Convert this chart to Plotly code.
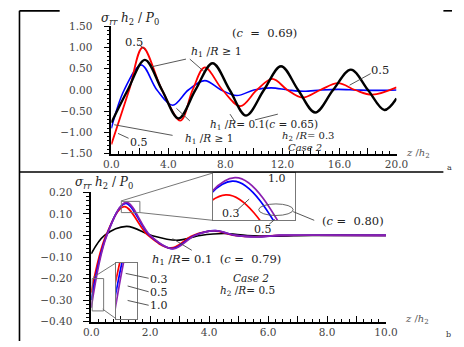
import plotly.graph_objects as go

# ---------------- data ----------------
# Panel (a): h2/R = 0.3, Case 2
z_a_black = [0, 1.15, 2.35, 3.55, 4.72, 5.9, 7.1, 8.3, 9.45, 10.7, 11.9, 13.1, 14.3, 15.55, 16.8, 18.0, 19.15, 20.0]
s_a_black = [-0.77, 0.0, 0.71, 0.0, -0.67, 0.0, 0.63, 0.0, -0.60, 0.0, 0.56, 0.0, -0.53, 0.0, 0.48, 0.0, -0.47, -0.20]

z_a_red = [0, 1.25, 2.2, 3.55, 4.85, 5.7, 6.55, 7.8, 9.05, 10.2, 11.3, 12.35, 13.4, 14.65, 15.9, 17.1, 18.3, 20.0]
s_a_red = [-1.28, 0.0, 1.0, 0.0, -0.72, 0.0, 0.53, 0.0, -0.38, 0.0, 0.26, 0.0, -0.18, 0.0, 0.16, 0.0, -0.11, 0.06]

z_a_blue = [0, 0.9, 2.1, 3.2, 4.3, 5.4, 6.55, 7.7, 8.8, 10.0, 11.2, 12.4, 13.5, 14.7, 15.9, 17.2, 18.4, 20.0]
s_a_blue = [-0.9, 0.0, 0.59, 0.0, -0.36, 0.0, 0.22, 0.0, -0.13, 0.0, 0.05, 0.0, -0.03, 0.0, 0.015, 0.0, -0.01, 0.0]

# Panel (b): h2/R = 0.5, Case 2
z_b_red = [0, 0.5, 1.12, 1.93, 2.7, 3.45, 4.15, 4.85, 5.55, 6.35, 7.5, 10.0]
s_b_red = [-0.265, 0.0, 0.134, 0.0, -0.058, 0.0, 0.021, 0.0, -0.006, 0.0, 0.001, 0.0]

z_b_blue = [0, 0.52, 1.17, 1.98, 2.75, 3.5, 4.2, 4.9, 5.6, 6.4, 7.5, 10.0]
s_b_blue = [-0.30, 0.0, 0.149, 0.0, -0.061, 0.0, 0.022, 0.0, -0.006, 0.0, 0.001, 0.0]

z_b_purple = [0, 0.53, 1.19, 2.0, 2.77, 3.52, 4.22, 4.92, 5.62, 6.42, 7.5, 10.0]
s_b_purple = [-0.335, 0.0, 0.153, 0.0, -0.062, 0.0, 0.022, 0.0, -0.006, 0.0, 0.001, 0.0]

z_b_black = [0, 0.45, 1.2, 2.05, 2.9, 3.7, 4.5, 5.3, 6.2, 7.5, 10.0]
s_b_black = [-0.085, 0.0, 0.042, 0.0, -0.022, 0.0, 0.009, 0.0, -0.003, 0.0, 0.0]

# tick labels
xa_vals = [0, 2, 4, 6, 8, 10, 12, 14, 16, 18, 20]
xa_text = ["0.0", "", "4.0", "", "8.0", "", "12.0", "", "16.0", "", "20.0"]
ya_vals = [-1.5, -1.0, -0.5, 0.0, 0.5, 1.0, 1.5]
ya_text = ["\u22121.50", "\u22121.00", "\u22120.50", "0.00", "0.50", "1.00", "1.50"]
xb_vals = [0, 1, 2, 3, 4, 5, 6, 7, 8, 9, 10]
xb_text = ["0.0", "", "2.0", "", "4.0", "", "6.0", "", "8.0", "", "10.0"]
yb_vals = [-0.4, -0.3, -0.2, -0.1, 0.0, 0.1, 0.2]
yb_text = ["\u22120.40", "\u22120.30", "\u22120.20", "\u22120.10", "0.00", "0.10", "0.20"]

# inset zoom windows
ins1_x = [1.02, 1.65]
ins1_y = [0.106, 0.158]
ins2_x = [0.03, 0.42]
ins2_y = [-0.35, -0.20]

# ---------------- styling ----------------
W, H = 464, 347
FONT = "DejaVu Serif"
RED, BLUE, PURPLE, BLACK = "#ff0000", "#0000ff", "#8a1fb0", "#000000"
NB = "&nbsp;"


def X(p):
    return p / W


def Y(p):
    return 1 - p / H


fig = go.Figure()
spl = dict(shape="spline", smoothing=1.0)

# panel a
fig.add_trace(go.Scatter(x=z_a_blue, y=s_a_blue, mode="lines", line=dict(color=BLUE, width=1.6, **spl), xaxis="x", yaxis="y"))
fig.add_trace(go.Scatter(x=z_a_red, y=s_a_red, mode="lines", line=dict(color=RED, width=1.8, **spl), xaxis="x", yaxis="y"))
fig.add_trace(go.Scatter(x=z_a_black, y=s_a_black, mode="lines", line=dict(color=BLACK, width=2.4, **spl), xaxis="x", yaxis="y"))

# panel b (main + two insets)
for ax, ay in (("x2", "y2"), ("x3", "y3"), ("x4", "y4")):
    if ax == "x2":
        fig.add_trace(go.Scatter(x=z_b_black, y=s_b_black, mode="lines", line=dict(color=BLACK, width=1.6, **spl), xaxis=ax, yaxis=ay))
    fig.add_trace(go.Scatter(x=z_b_red, y=s_b_red, mode="lines", line=dict(color=RED, width=1.7, **spl), xaxis=ax, yaxis=ay))
    fig.add_trace(go.Scatter(x=z_b_blue, y=s_b_blue, mode="lines", line=dict(color=BLUE, width=1.7, **spl), xaxis=ax, yaxis=ay))
    fig.add_trace(go.Scatter(x=z_b_purple, y=s_b_purple, mode="lines", line=dict(color=PURPLE, width=1.7, **spl), xaxis=ax, yaxis=ay))

tickfont = dict(family=FONT, size=10.5, color="#444")
common_x = dict(showline=True, linecolor="black", linewidth=1.6, ticks="inside", ticklen=6, tickwidth=1.3,
                tickcolor="black", showgrid=False, zeroline=False, tickfont=tickfont)
common_y = dict(showline=True, linecolor="black", linewidth=1.6, ticks="outside", ticklen=6, tickwidth=1.3,
                tickcolor="black", showgrid=False, zeroline=False, tickfont=tickfont, ticklabelstandoff=9)
inset_ax = dict(showline=True, mirror=True, linecolor="#777", linewidth=1, showticklabels=False, ticks="",
                showgrid=False, zeroline=False)

fig.update_layout(
    width=W, height=H, margin=dict(l=0, r=0, t=0, b=0),
    paper_bgcolor="white", plot_bgcolor="rgba(0,0,0,0)", showlegend=False,
    xaxis=dict(domain=[X(108), X(406)], range=[0, 20], anchor="y", tickvals=xa_vals, ticktext=xa_text,
               minor=dict(dtick=0.5, ticklen=3, tickcolor="black", ticks="inside"), **common_x),
    yaxis=dict(domain=[Y(153), Y(21)], range=[-1.5, 1.5], anchor="x", tickvals=ya_vals, ticktext=ya_text,
               minor=dict(dtick=0.1, ticklen=3, tickcolor="black", ticks="outside"), **common_y),
    xaxis2=dict(domain=[X(87), X(395)], range=[0, 10], anchor="y2", tickvals=xb_vals, ticktext=xb_text,
                minor=dict(dtick=0.25, ticklen=3, tickcolor="black", ticks="inside"), **common_x),
    yaxis2=dict(domain=[Y(327), Y(193)], range=[-0.4, 0.2], anchor="x2", tickvals=yb_vals, ticktext=yb_text,
                minor=dict(dtick=0.02, ticklen=3, tickcolor="black", ticks="outside"), **common_y),
    xaxis3=dict(domain=[X(214), X(300)], range=ins1_x, anchor="y3", **inset_ax),
    yaxis3=dict(domain=[Y(222), Y(173)], range=ins1_y, anchor="x3", **inset_ax),
    xaxis4=dict(domain=[X(113), X(135)], range=ins2_x, anchor="y4", **inset_ax),
    yaxis4=dict(domain=[Y(324), Y(266)], range=ins2_y, anchor="x4", **inset_ax),
)

shapes = []


def pline(x0, y0, x1, y1, color="#444", width=0.9):
    shapes.append(dict(type="line", xref="paper", yref="paper", x0=X(x0), y0=Y(y0), x1=X(x1), y1=Y(y1),
                       line=dict(color=color, width=width)))


# frame
pline(12, 5, 12, 347, "black", 1.6)
pline(12, 5, 54, 5, "black", 1.6)
pline(455, 5, 464, 5, "black", 1.6)
pline(12, 172, 455, 172, "black", 1.6)

# leader lines panel a
pline(137, 40, 143, 45)
pline(186, 55, 150, 63)
pline(190, 55, 205, 68)
pline(190, 119, 176, 106)
pline(236, 118, 232, 112)
pline(258, 118, 282, 112)
pline(172, 134, 111, 123)
pline(126, 137, 115, 132)
pline(379, 70, 357, 82)

# leader lines panel b
pline(192, 253, 172, 241)
pline(240, 211, 252, 200)
pline(273, 226, 279, 221)
pline(298, 213, 320, 222)
pline(147, 282, 123, 277)
pline(147, 296, 125, 290)
pline(147, 310, 125, 305)

# zoom boxes in main axes + connectors
shapes.append(dict(type="rect", xref="x2", yref="y2", x0=ins1_x[0], x1=ins1_x[1], y0=ins1_y[0], y1=ins1_y[1],
                   line=dict(color="#777", width=1)))
shapes.append(dict(type="rect", xref="x2", yref="y2", x0=ins2_x[0], x1=ins2_x[1], y0=ins2_y[0], y1=ins2_y[1],
                   line=dict(color="#777", width=1)))
pline(118, 202, 214, 173, "#666", 0.9)
pline(138, 214, 214, 222, "#666", 0.9)
pline(99, 314, 113, 324, "#666", 0.9)
pline(89, 281, 113, 266, "#666", 0.9)
shapes.append(dict(type="circle", xref="paper", yref="paper", x0=X(262), x1=X(298), y0=Y(205), y1=Y(217),
                   line=dict(color="#555", width=0.9)))
fig.update_layout(shapes=shapes)

annos = []


def txt(x, y, s, size=11, color="#222", italic=False):
    annos.append(dict(xref="paper", yref="paper", x=X(x), y=Y(y), text=(f"<i>{s}</i>" if italic else s),
                      showarrow=False, xanchor="center", yanchor="middle",
                      font=dict(family=FONT, size=size, color=color)))


ytitle = f"<i>\u03c3</i><sub><i>rr</i></sub>{NB}<i>h</i><sub>2</sub>{NB}/{NB}<i>P</i><sub>0</sub>"
EQ = f"{NB}={NB}"
txt(127, 13, ytitle, 12)
txt(268, 28, f"(<i>c</i>{NB}{EQ}{NB}0.69)", 11.5)
txt(132, 37, "0.5", 11.5)
txt(218, 48, f"<i>h</i><sub>1</sub>{NB}/<i>R</i>{NB}\u2265{NB}1", 11)
txt(268, 123, f"<i>h</i><sub>1</sub>{NB}/<i>R</i>={NB}0.1(<i>c</i>{EQ}0.65)", 10.5)
txt(210, 138, f"<i>h</i><sub>1</sub>{NB}/<i>R</i>{NB}\u2265{NB}1", 10.5)
txt(137, 141, "0.5", 11)
txt(389, 66, "0.5", 11.5)
txt(314, 135, f"<i>h</i><sub>2</sub>{NB}/<i>R</i>={NB}0.3", 10)
txt(310, 146.5, "Case 2", 10, italic=True)
txt(428, 153, f"<i>z</i>{NB}/<i>h</i><sub>2</sub>", 10, "#555")
txt(461, 167, "a", 8, "#333")

txt(100, 183, ytitle, 12)
txt(218, 263, f"<i>h</i><sub>1</sub>{NB}/<i>R</i>={NB}0.1{NB}{NB}(<i>c</i>{EQ}{NB}0.79)", 11.5)
txt(254, 282, "Case 2", 10.5, italic=True)
txt(250, 295, f"<i>h</i><sub>2</sub>{NB}/<i>R</i>={NB}0.5", 10.5)
txt(427, 325, f"<i>z</i>{NB}/<i>h</i><sub>2</sub>", 10, "#555")
txt(460, 340, "b", 8, "#333")
txt(281, 179, "1.0", 11)
txt(233, 215, "0.3", 11)
txt(267, 231, "0.5", 11)
txt(361, 223, f"(<i>c</i>{EQ}{NB}0.80)", 11.5)
txt(158, 283, "0.3", 11)
txt(158, 297, "0.5", 11)
txt(158, 310, "1.0", 11)
fig.update_layout(annotations=annos)

fig.write_html("out.html")
